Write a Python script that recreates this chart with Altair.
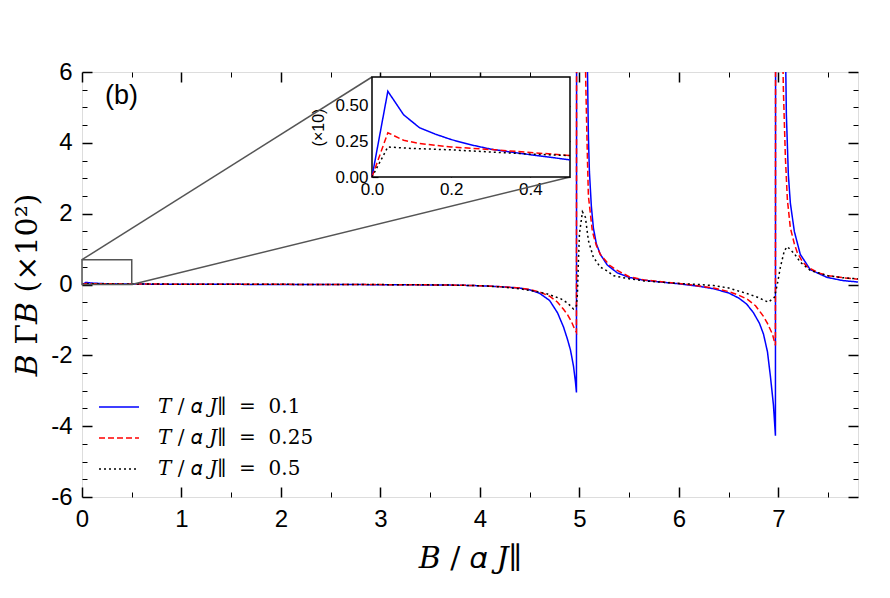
import altair as alt
import pandas as pd

# ---------------- data ----------------
NB = "\u00a0"
series_names = [f"𝑇 / 𝛼 𝐽∥{NB}{NB}={NB}{NB}0.1", f"𝑇 / 𝛼 𝐽∥{NB}{NB}={NB}{NB}0.25",
                f"𝑇 / 𝛼 𝐽∥{NB}{NB}={NB}{NB}0.5"]
series_colors = ["#0000ff", "#ff0000", "#000000"]
series_dash = [[1, 0], [6, 3], [2, 3]]
series_width = [1.5, 1.5, 2.2]

# main panel (units of 10^2)
blue_x = [0, 0.04, 0.1, 0.2, 0.35, 0.5, 1.0, 1.5, 2.0, 2.5, 3.0, 3.5, 3.8, 4.0, 4.2, 4.4, 4.5, 4.6,
          4.7, 4.78, 4.84, 4.88, 4.91, 4.94, 4.96, 4.97, 4.975,
          5.07, 5.08, 5.09, 5.1, 5.12, 5.14, 5.17, 5.21, 5.28, 5.38, 5.5, 5.65, 5.85, 6.0, 6.2, 6.35,
          6.5, 6.6, 6.68, 6.75, 6.81, 6.85, 6.89, 6.92, 6.95, 6.97, 6.975, 7.065, 7.08, 7.1, 7.12,
          7.16, 7.22, 7.32, 7.49, 7.65, 7.8]
blue_y = [0, 0.06, 0.04, 0.026, 0.017, 0.012, 0.007, 0.004, 0.002, 0.0, -0.005, -0.012, -0.02,
          -0.035, -0.06, -0.1, -0.15, -0.25, -0.45, -0.8, -1.2, -1.55, -1.85, -2.3, -2.75, -3.05, 30,
          9, 6.2, 4.2, 3.2, 2.2, 1.6, 1.15, 0.85, 0.55, 0.33, 0.2, 0.12, 0.06, 0.02, -0.05, -0.12,
          -0.24, -0.38, -0.55, -0.8, -1.1, -1.4, -1.9, -2.6, -3.4, -4.27, 30, 8, 4.8, 3.1, 2.3,
          1.5, 0.85, 0.42, 0.2, 0.11, 0.07]

red_x = [0, 0.04, 0.1, 0.2, 0.35, 0.5, 1.0, 1.5, 2.0, 2.5, 3.0, 3.5, 3.8, 4.0, 4.2, 4.4, 4.5, 4.6,
         4.7, 4.78, 4.84, 4.88, 4.92, 4.95, 4.97, 4.975, 5.05, 5.065, 5.08, 5.09,
         5.13, 5.17, 5.21, 5.3, 5.38, 5.5, 5.65, 5.85, 6.0, 6.2, 6.35, 6.5, 6.6, 6.69, 6.77, 6.85,
         6.89, 6.94, 6.97, 6.975, 7.035, 7.05, 7.07, 7.09, 7.12, 7.16, 7.19, 7.24, 7.29, 7.4, 7.5,
         7.65, 7.8]
red_y = [0, 0.031, 0.024, 0.021, 0.018, 0.015, 0.009, 0.006, 0.004, 0.002, -0.003, -0.01, -0.02,
         -0.035, -0.06, -0.1, -0.14, -0.21, -0.33, -0.5, -0.7, -0.85, -1.05, -1.25, -1.35,
         30, 8, 5.5, 3.6, 2.5, 1.5, 1.1, 0.85, 0.55, 0.4, 0.22, 0.13, 0.07, 0.03, -0.04, -0.1, -0.2,
         -0.3, -0.42, -0.6, -0.9, -1.1, -1.4, -1.72, 30, 8, 5.5, 3.6, 2.4, 1.6, 1.15, 0.9, 0.65, 0.5,
         0.33, 0.25, 0.19, 0.15]

black_x = [0, 0.04, 0.1, 0.2, 0.35, 0.5, 1.0, 1.5, 2.0, 2.5, 3.0, 3.5, 3.8, 4.0, 4.2, 4.4,
           4.55, 4.67, 4.81, 4.88, 4.94, 4.97, 4.98, 4.99, 5.0, 5.03, 5.06, 5.09, 5.14, 5.21, 5.28,
           5.34, 5.48, 5.65, 5.85, 6.0, 6.2, 6.35, 6.5, 6.69, 6.79, 6.9, 6.96, 6.99, 7.02, 7.06, 7.09,
           7.16, 7.22, 7.32, 7.49, 7.65, 7.8]
black_y = [0, 0.021, 0.02, 0.019, 0.017, 0.015, 0.009, 0.006, 0.004, 0.002, -0.003, -0.01, -0.02,
           -0.035, -0.065, -0.12, -0.19, -0.26, -0.4, -0.52, -0.69, -0.6, -0.26, 0.68, 1.43, 2.05,
           1.9, 1.24, 0.77, 0.49, 0.38, 0.25, 0.17, 0.1, 0.06, 0.03, 0.0, -0.03, -0.1, -0.26, -0.36,
           -0.5, -0.36, 0.02, 0.49, 0.96, 1.07, 0.87, 0.63, 0.4, 0.25, 0.19, 0.16]

# inset panel (units of 10)
inset_blue_x = [0, 0.04, 0.08, 0.12, 0.16, 0.2, 0.25, 0.3, 0.35, 0.4, 0.45, 0.5]
inset_blue_y = [0, 0.6, 0.435, 0.345, 0.3, 0.262, 0.225, 0.195, 0.175, 0.156, 0.138, 0.12]
inset_red_x = [0, 0.04, 0.08, 0.12, 0.16, 0.2, 0.3, 0.4, 0.5]
inset_red_y = [0, 0.31, 0.257, 0.235, 0.222, 0.21, 0.192, 0.172, 0.15]
inset_black_x = [0, 0.04, 0.1, 0.2, 0.3, 0.4, 0.5]
inset_black_y = [0, 0.21, 0.2, 0.19, 0.175, 0.16, 0.15]

# axes / ranges
x_domain = [0, 7.8]
y_domain = [-6, 6]
x_major = [0, 1, 2, 3, 4, 5, 6, 7]
x_minor = [0.5, 1.5, 2.5, 3.5, 4.5, 5.5, 6.5, 7.5]
y_major = [-6, -4, -2, 0, 2, 4, 6]
y_minor = [-5.5, -5, -4.5, -3.5, -3, -2.5, -1.5, -1, -0.5, 0.5, 1, 1.5, 2.5, 3, 3.5, 4.5, 5, 5.5]

inset_x_domain = [0, 0.5]
inset_y_domain = [0, 0.7]
inset_x_major = [0, 0.2, 0.4]
inset_y_major = [0, 0.25, 0.5]
zoom_y_top = 0.7   # height of the zoom box in the main panel

# ---------------- layout ----------------
W, H = 776, 425
IN_L, IN_R, IN_T, IN_B = 290, 488, 5, 105   # inset box in plot pixels

frames = []
for name, xs, ys in zip(series_names, [blue_x, red_x, black_x], [blue_y, red_y, black_y]):
    frames.append(pd.DataFrame({"x": xs, "y": ys, "series": name}))
df = pd.concat(frames, ignore_index=True)

iframes = []
for name, xs, ys in zip(series_names, [inset_blue_x, inset_red_x, inset_black_x],
                        [inset_blue_y, inset_red_y, inset_black_y]):
    iframes.append(pd.DataFrame({"x": xs, "y": ys, "series": name}))
idf = pd.concat(iframes, ignore_index=True)

corners = pd.DataFrame({"x": x_domain, "y": y_domain})
inset_corners = pd.DataFrame({"x": inset_x_domain, "y": inset_y_domain})


def px_to_x(px):
    return x_domain[0] + px / W * (x_domain[1] - x_domain[0])


def py_to_y(py):
    return y_domain[1] - py / H * (y_domain[1] - y_domain[0])


zoom_box = pd.DataFrame({"x": [inset_x_domain[0]], "x2": [inset_x_domain[1]],
                         "y": [0], "y2": [zoom_y_top]})
connectors = pd.DataFrame({
    "x": [inset_x_domain[0], inset_x_domain[1]],
    "y": [zoom_y_top, 0],
    "x2": [px_to_x(IN_L), px_to_x(IN_R)],
    "y2": [py_to_y(IN_T), py_to_y(IN_B)],
})

main_xs = alt.Scale(domain=x_domain, nice=False, zero=False)
main_ys = alt.Scale(domain=y_domain, nice=False, zero=False)
in_xs = alt.Scale(domain=inset_x_domain, range=[IN_L, IN_R], nice=False, zero=False)
in_ys = alt.Scale(domain=inset_y_domain, range=[IN_B, IN_T], nice=False, zero=False)

SERIF = "DejaVu Serif"
SANS = "Liberation Sans"

leg = alt.Legend(title=None, orient="none", legendX=16, legendY=314,
                 symbolType="stroke", symbolSize=1600, symbolStrokeWidth=1.5,
                 labelFont=SERIF, labelFontSize=20, labelLimit=0,
                 rowPadding=-9, labelOffset=18)
color_enc = alt.Color("series:N", scale=alt.Scale(domain=series_names, range=series_colors), legend=leg)
dash_enc = alt.StrokeDash("series:N", scale=alt.Scale(domain=series_names, range=series_dash), legend=leg)
width_enc = alt.StrokeWidth("series:N", scale=alt.Scale(domain=series_names, range=series_width),
                            legend=None)

main_lines = alt.Chart(df).mark_line(clip=True).encode(
    x=alt.X("x:Q", scale=main_xs,
            axis=alt.Axis(values=x_major, ticks=False, domain=False, grid=False, labelFontSize=24,
                          labelFont=SANS, labelPadding=10, labelFlush=False,
                          title="𝐵 / 𝛼 𝐽∥", titleFont=SERIF, titleFontSize=30,
                          titleFontWeight="normal", titlePadding=12)),
    y=alt.Y("y:Q", scale=main_ys,
            axis=alt.Axis(values=y_major, ticks=False, domain=False, grid=False, labelFontSize=24,
                          labelFont=SANS, labelPadding=10, labelFlush=False,
                          labelExpr="toString(datum.value)",
                          title="𝐵 Γ𝐵 (×10²)", titleFont=SERIF, titleFontSize=30,
                          titleFontWeight="normal", titlePadding=8)),
    color=color_enc,
    strokeDash=dash_enc,
    strokeWidth=width_enc,
    order=alt.Order("x:Q"),
)


def tick_layer(data, xs, ys, xorient, xoff, xvals, yorient, yoff, yvals, size, width):
    return alt.Chart(data).mark_point(opacity=0).encode(
        x=alt.X("x:Q", scale=xs,
                axis=alt.Axis(orient=xorient, offset=xoff, values=xvals, labels=False, domain=False,
                              grid=False, tickSize=size, tickWidth=width, tickColor="black", title=None)),
        y=alt.Y("y:Q", scale=ys,
                axis=alt.Axis(orient=yorient, offset=yoff, values=yvals, labels=False, domain=False,
                              grid=False, tickSize=size, tickWidth=width, tickColor="black", title=None)),
    )


ticks_main = [
    tick_layer(corners, main_xs, main_ys, "top", -H, x_major, "right", -W, y_major, 10, 1.5),
    tick_layer(corners, main_xs, main_ys, "top", -H, x_minor, "right", -W, y_minor, 5, 1),
    tick_layer(corners, main_xs, main_ys, "bottom", -H, x_major, "left", -W, y_major, 10, 1.5),
    tick_layer(corners, main_xs, main_ys, "bottom", -H, x_minor, "left", -W, y_minor, 5, 1),
]

zoom_rect = alt.Chart(zoom_box).mark_rect(fillOpacity=0, stroke="#555555", strokeWidth=1.5).encode(
    x=alt.X("x:Q", scale=main_xs, axis=None), x2="x2:Q",
    y=alt.Y("y:Q", scale=main_ys, axis=None), y2="y2:Q",
)
connector_lines = alt.Chart(connectors).mark_rule(color="#555555", strokeWidth=1.5).encode(
    x=alt.X("x:Q", scale=main_xs, axis=None), x2="x2:Q",
    y=alt.Y("y:Q", scale=main_ys, axis=None), y2="y2:Q",
)

inset_frame = alt.Chart(inset_corners).mark_rect(fill="white", stroke="black", strokeWidth=1.5).encode(
    x=alt.X("min(x):Q", scale=in_xs, axis=None), x2="max(x):Q",
    y=alt.Y("min(y):Q", scale=in_ys, axis=None), y2="max(y):Q",
)

inset_lines = alt.Chart(idf).mark_line().encode(
    x=alt.X("x:Q", scale=in_xs,
            axis=alt.Axis(orient="bottom", offset=-(H - IN_B), values=inset_x_major, format=".1f",
                          ticks=False, domain=False, grid=False, labelFontSize=17, labelFont=SANS,
                          labelPadding=4, labelFlush=False, title=None)),
    y=alt.Y("y:Q", scale=in_ys,
            axis=alt.Axis(orient="left", offset=-IN_L, values=inset_y_major, format=".2f",
                          ticks=False, domain=False, grid=False, labelFontSize=17, labelFont=SANS,
                          labelPadding=4, labelFlush=False, title="(×10)", titleFont=SANS,
                          titleFontSize=16, titleFontWeight="normal", titlePadding=8)),
    color=alt.Color("series:N", scale=alt.Scale(domain=series_names, range=series_colors), legend=None),
    strokeDash=alt.StrokeDash("series:N", scale=alt.Scale(domain=series_names, range=series_dash),
                              legend=None),
    strokeWidth=alt.StrokeWidth("series:N", scale=alt.Scale(domain=series_names, range=series_width),
                                legend=None),
    order=alt.Order("x:Q"),
)

ticks_inset = [
    tick_layer(inset_corners, in_xs, in_ys, "top", -IN_B, inset_x_major, "right", IN_L - W,
               inset_y_major, 6, 1.2),
    tick_layer(inset_corners, in_xs, in_ys, "bottom", -(H - IN_T), inset_x_major, "left", -IN_R,
               inset_y_major, 6, 1.2),
]

chart = alt.layer(
    main_lines, *ticks_main, zoom_rect, connector_lines, inset_frame, inset_lines, *ticks_inset
).resolve_scale(
    x="independent", y="independent", color="independent", strokeDash="independent",
    strokeWidth="independent"
).properties(
    width=W, height=H,
    title=alt.TitleParams("(b)", anchor="start", frame="group", dx=23, dy=50, offset=0,
                          fontSize=27, font=SANS, fontWeight="normal"),
    autosize=alt.AutoSizeParams(type="none"),
    padding={"left": 74, "top": 64, "right": 24, "bottom": 93},
).configure_view(
    stroke="black", strokeWidth=1.5
).configure(font=SANS)

chart.save("out.html", embed_options={"renderer": "svg", "actions": False})
